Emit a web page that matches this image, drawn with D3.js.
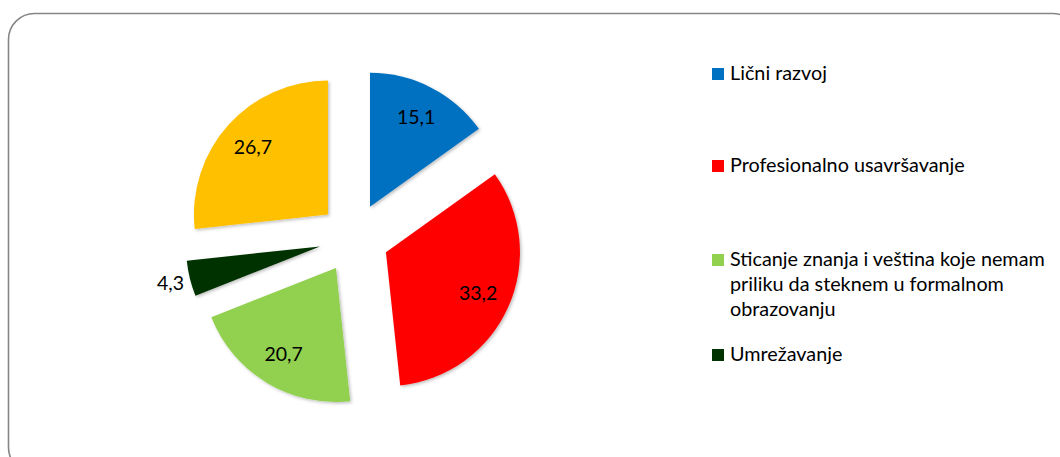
<!DOCTYPE html>
<html>
<head>
<meta charset="utf-8">
<script src="https://cdn.jsdelivr.net/npm/d3@7"></script>
<style>
  html, body { margin: 0; padding: 0; background: #fff; }
  svg { display: block; }
  text { font-family: Lato, "Open Sans", sans-serif; }
</style>
</head>
<body>
<svg id="chart" width="1060" height="457"></svg>
<script>
const categories = [
  "Lični razvoj",
  "Profesionalno usavršavanje",
  "Sticanje znanja i veština koje nemam priliku da steknem u formalnom obrazovanju",
  "Umrežavanje",
  ""
];
const values = [15.1, 33.2, 20.7, 4.3, 26.7];
const valueLabels = ["15,1", "33,2", "20,7", "4,3", "26,7"];
const colors = ["#0070C0", "#FF0000", "#92D050", "#003300", "#FFC000"];
const legendLines = [
  ["Lični razvoj"],
  ["Profesionalno usavršavanje"],
  ["Sticanje znanja i veština koje nemam", "priliku da steknem u formalnom", "obrazovanju"],
  ["Umrežavanje"]
];

const svg = d3.select("#chart");

// frame
svg.append("rect")
  .attr("x", 8.5).attr("y", 13.5)
  .attr("width", 1070).attr("height", 460)
  .attr("rx", 26).attr("ry", 26)
  .attr("fill", "#fff").attr("stroke", "#868686").attr("stroke-width", 1.6);

const defs = svg.append("defs");
const f = defs.append("filter").attr("id", "sh").attr("x", "-20%").attr("y", "-20%").attr("width", "140%").attr("height", "140%");
f.append("feDropShadow").attr("dx", 1.5).attr("dy", 1.5).attr("stdDeviation", 1.5)
  .attr("flood-color", "#000").attr("flood-opacity", 0.25);

const cx = 354, cy = 238, R = 134, explode = 35;
const pie = d3.pie().sort(null).value(d => d)(values);
const arc = d3.arc().innerRadius(0).outerRadius(R);
const labelArc = d3.arc().innerRadius(101).outerRadius(101);
const outArc = d3.arc().innerRadius(R * 1.15).outerRadius(R * 1.15);

const g = svg.append("g").attr("transform", `translate(${cx},${cy})`);
const slices = g.selectAll("g.slice").data(pie).join("g")
  .attr("class", "slice")
  .attr("transform", d => {
    const m = (d.startAngle + d.endAngle) / 2;
    return `translate(${explode * Math.sin(m)},${-explode * Math.cos(m)})`;
  });

slices.append("path")
  .attr("d", arc)
  .attr("fill", (d, i) => colors[i])
  .attr("filter", "url(#sh)");

slices.append("text")
  .attr("transform", (d, i) => {
    const p = (values[i] < 5 ? outArc : labelArc).centroid(d);
    return `translate(${p[0]},${p[1]})`;
  })
  .attr("text-anchor", "middle")
  .attr("dy", "0.35em")
  .attr("font-size", 19.5)
  .attr("fill", "#000")
  .text((d, i) => valueLabels[i]);

// legend
const lg = svg.append("g");
const rowBaselines = [80, 172, 266, 361];
legendLines.forEach((lines, i) => {
  const b = rowBaselines[i];
  lg.append("rect").attr("x", 712).attr("y", b - 12).attr("width", 12).attr("height", 12).attr("fill", colors[i]);
  const t = lg.append("text").attr("x", 730).attr("y", b).attr("font-size", 19.8).attr("fill", "#000");
  lines.forEach((ln, j) => {
    t.append("tspan").attr("x", 730).attr("y", b + j * 25).text(ln);
  });
});
</script>
</body>
</html>
